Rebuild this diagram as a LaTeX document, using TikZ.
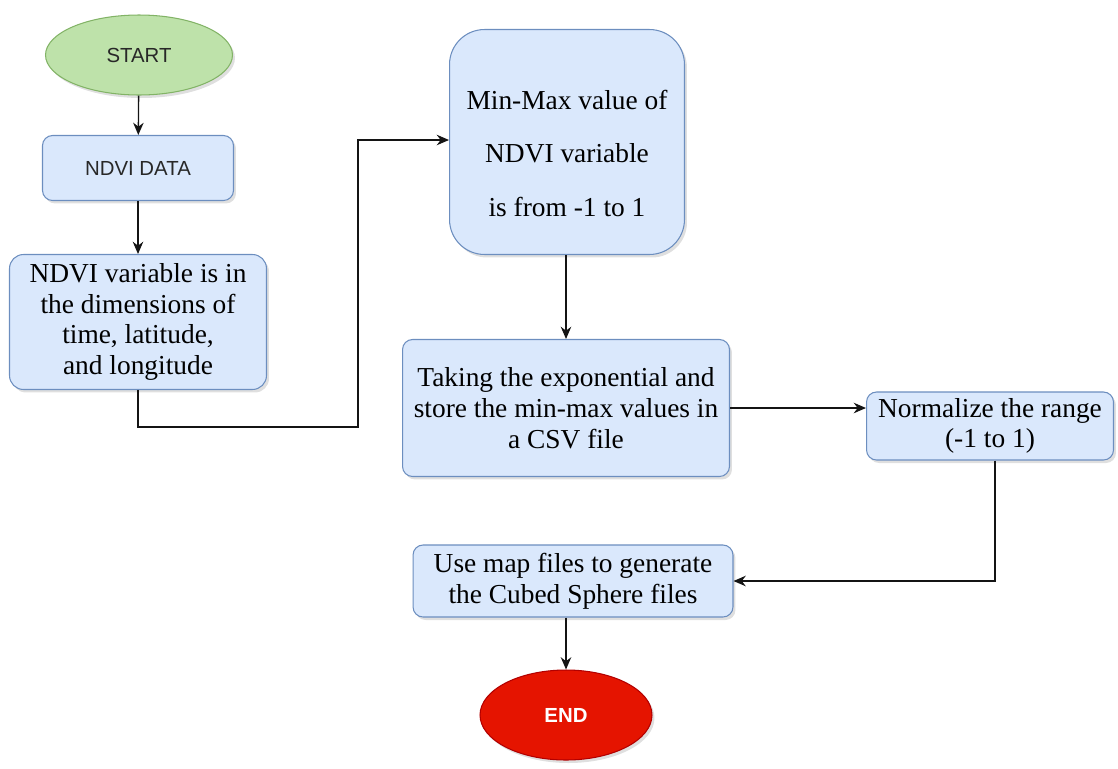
\documentclass[tikz,border=0pt]{standalone}
\usepackage{fontspec}
\setmainfont{Liberation Serif}
\newfontfamily\labelfont{Liberation Sans}
\usepackage{tikz}
\usetikzlibrary{shapes.geometric, arrows.meta, positioning, calc, shadows}
\definecolor{boxblue}{RGB}{218,232,252}
\definecolor{boxedge}{RGB}{108,142,191}
\definecolor{startgreen}{RGB}{190,226,170}
\definecolor{startedge}{RGB}{130,179,102}
\definecolor{endred}{RGB}{229,20,0}
\definecolor{endedge}{RGB}{178,0,0}
\definecolor{mydark}{RGB}{20,20,20}
\definecolor{labelgray}{RGB}{40,40,40}
\tikzset{
  stepbox/.style={rectangle, draw=boxedge, fill=boxblue,
    align=center, rounded corners=0.2cm, line width=0.6pt,
    font=\fontsize{15.6}{17.5}\selectfont, inner sep=2pt,
    drop shadow={opacity=0.25, shadow xshift=0.05cm, shadow yshift=-0.06cm}},
  labelbox/.style={stepbox, text=labelgray, font=\labelfont\fontsize{11.6}{14}\selectfont},
  startnode/.style={ellipse, draw=startedge, fill=startgreen, inner sep=0pt,
    text=labelgray, font=\labelfont\fontsize{11.6}{14}\selectfont, line width=0.6pt,
    drop shadow={opacity=0.25, shadow xshift=0.05cm, shadow yshift=-0.06cm}},
  endnode/.style={ellipse, draw=endedge, fill=endred, text=white, inner sep=0pt,
    font=\labelfont\bfseries\fontsize{11.6}{14}\selectfont, line width=0.6pt,
    drop shadow={opacity=0.25, shadow xshift=0.05cm, shadow yshift=-0.06cm}},
  arrow/.style={-{Stealth[length=7pt, width=6pt]}, line width=0.75pt, color=mydark},
}

\begin{document}
\begin{tikzpicture}[x=0.02cm, y=-0.02cm]
  \useasboundingbox (0,0) rectangle (1118,768);

  % Nodes
  \node[startnode, minimum width=3.74cm, minimum height=1.6cm] (start) at (139,55) {START};
  \node[labelbox, minimum width=3.82cm, minimum height=1.3cm] (data) at (138,168) {NDVI DATA};
  \node[stepbox, minimum width=5.14cm, minimum height=2.7cm, rounded corners=0.28cm] (var) at (138,322)
    {NDVI variable is in\\the dimensions of\\time, latitude,\\and longitude};
  \node[stepbox, minimum width=4.7cm, minimum height=4.5cm, rounded corners=0.7cm] (minmax) at (567,142)
    {\rule{0pt}{24pt}Min-Max value of\\[13pt]NDVI variable\\[13pt]is from -1 to 1};
  \node[stepbox, minimum width=6.54cm, minimum height=2.74cm] (expo) at (566,408)
    {Taking the exponential and\\store the min-max values in\\a CSV file};
  \node[stepbox, minimum width=4.94cm, minimum height=1.36cm] (norm) at (990,426)
    {Normalize the range\\(-1 to 1)};
  \node[stepbox, minimum width=6.4cm, minimum height=1.44cm] (cubed) at (573,581)
    {Use map files to generate\\the Cubed Sphere files};
  \node[endnode, minimum width=3.44cm, minimum height=1.8cm] (end) at (566,715) {END};

  % Bends of the long connectors
  \coordinate (bendlow) at (358,427);
  \coordinate (bendhigh) at (358,140);

  % Connections
  \draw[arrow] (start) -- (data);
  \draw[arrow] (data) -- (var);
  \draw[arrow] (var.south) |- (bendlow) -- (bendhigh) -- (bendhigh -| minmax.west);
  \draw[arrow] (minmax.south -| expo.north) -- (expo.north);
  \draw[arrow] (expo.east) -- (expo.east -| norm.west);
  \draw[arrow] ([xshift=0.1cm]norm.south) |- (cubed.east);
  \draw[arrow] (cubed.south -| end.north) -- (end.north);
\end{tikzpicture}
\end{document}
